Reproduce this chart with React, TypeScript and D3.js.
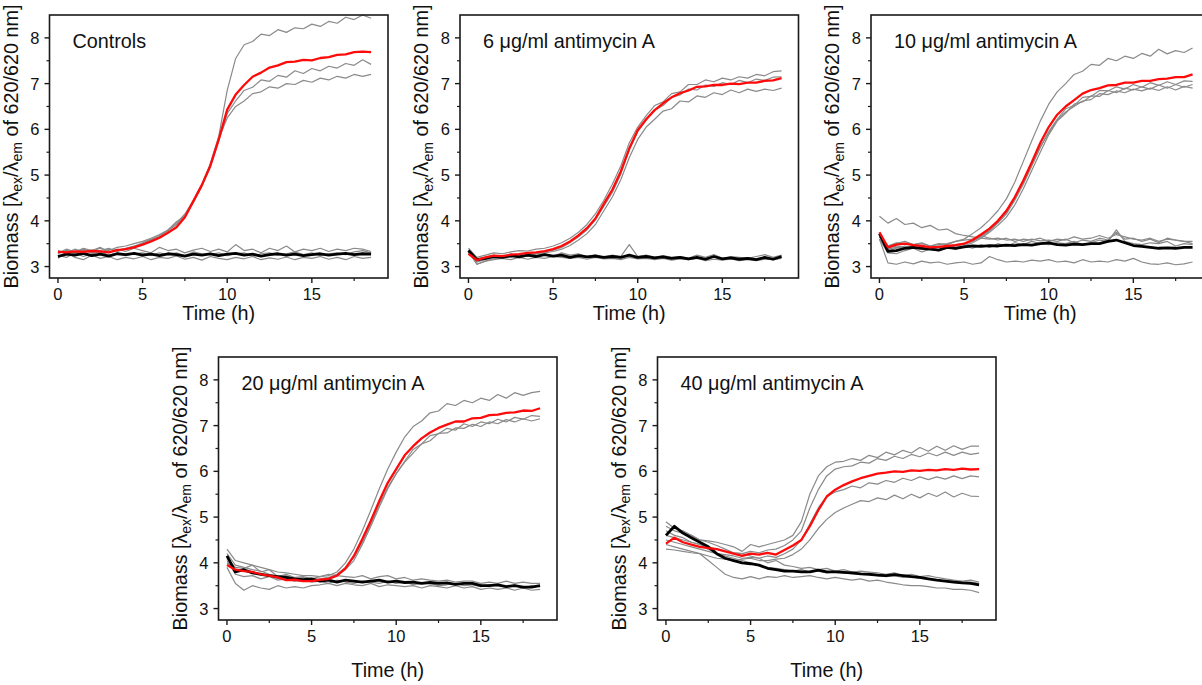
import React from 'react';
import * as d3 from 'd3';

// ---------- shared axes / categories ----------
const TIME = [0, 0.5, 1, 1.5, 2, 2.5, 3, 3.5, 4, 4.5, 5, 5.5, 6, 6.5, 7, 7.5, 8, 8.5, 9, 9.5,
  10, 10.5, 11, 11.5, 12, 12.5, 13, 13.5, 14, 14.5, 15, 15.5, 16, 16.5, 17, 17.5, 18, 18.5];
const X_TICKS = [0, 5, 10, 15];
const X_MINOR = [2.5, 7.5, 12.5, 17.5];
const Y_TICKS = [3, 4, 5, 6, 7, 8];
const Y_MINOR = [3.5, 4.5, 5.5, 6.5, 7.5];
const TITLES = ['Controls', '6 μg/ml antimycin A', '10 μg/ml antimycin A', '20 μg/ml antimycin A', '40 μg/ml antimycin A'];

// ---------- Panel 1: Controls ----------
const P1_RED = [3.32, 3.31, 3.33, 3.32, 3.34, 3.33, 3.31, 3.36, 3.38, 3.42, 3.48, 3.55, 3.63, 3.74, 3.86, 4.08, 4.43, 4.78, 5.2, 5.78,
  6.43, 6.76, 6.97, 7.15, 7.24, 7.35, 7.4, 7.47, 7.48, 7.52, 7.51, 7.56, 7.58, 7.63, 7.64, 7.69, 7.7, 7.69];
const P1_GROW = [
  [3.28, 3.36, 3.30, 3.38, 3.33, 3.40, 3.35, 3.42, 3.45, 3.50, 3.55, 3.62, 3.70, 3.80, 3.95, 4.15, 4.45, 4.80, 5.25, 5.85,
    6.85, 7.55, 7.85, 7.92, 8.08, 8.05, 8.18, 8.12, 8.22, 8.2, 8.3, 8.25, 8.36, 8.32, 8.45, 8.4, 8.5, 8.43],
  [3.35, 3.30, 3.38, 3.32, 3.36, 3.30, 3.38, 3.35, 3.40, 3.45, 3.50, 3.58, 3.68, 3.78, 3.92, 4.12, 4.40, 4.75, 5.18, 5.75,
    6.35, 6.62, 6.85, 6.92, 7.08, 7.05, 7.18, 7.14, 7.28, 7.22, 7.33, 7.28, 7.38, 7.34, 7.44, 7.4, 7.52, 7.42],
  [3.30, 3.34, 3.28, 3.36, 3.30, 3.35, 3.40, 3.33, 3.38, 3.44, 3.52, 3.60, 3.65, 3.80, 3.98, 4.10, 4.42, 4.76, 5.22, 5.80,
    6.25, 6.5, 6.62, 6.78, 6.82, 6.93, 6.9, 7.0, 6.98, 7.07, 7.03, 7.12, 7.08, 7.16, 7.12, 7.2, 7.16, 7.2],
];
const P1_BLACK = [3.22, 3.27, 3.25, 3.29, 3.24, 3.27, 3.23, 3.28, 3.26, 3.29, 3.25, 3.27, 3.24, 3.28, 3.26, 3.23, 3.27, 3.25, 3.28, 3.24,
  3.27, 3.29, 3.25, 3.27, 3.23, 3.26, 3.28, 3.25, 3.27, 3.24, 3.26, 3.28, 3.25, 3.27, 3.29, 3.26, 3.28, 3.27];
const P1_FLAT = [
  [3.18, 3.32, 3.2, 3.15, 3.25, 3.18, 3.22, 3.15, 3.2, 3.17, 3.22, 3.15, 3.2, 3.18, 3.23, 3.16, 3.2, 3.14, 3.22, 3.18,
    3.15, 3.2, 3.17, 3.22, 3.15, 3.19, 3.16, 3.21, 3.15, 3.2, 3.18, 3.22, 3.16, 3.2, 3.15, 3.22, 3.18, 3.2],
  [3.3, 3.38, 3.32, 3.4, 3.35, 3.42, 3.3, 3.38, 3.33, 3.4, 3.35, 3.3, 3.42, 3.35, 3.38, 3.3, 3.36, 3.4, 3.33, 3.38,
    3.32, 3.48, 3.35, 3.38, 3.3, 3.4, 3.35, 3.45, 3.32, 3.38, 3.35, 3.4, 3.33, 3.38, 3.35, 3.4, 3.38, 3.33],
  [3.25, 3.2, 3.3, 3.22, 3.28, 3.32, 3.25, 3.3, 3.24, 3.28, 3.3, 3.25, 3.3, 3.26, 3.3, 3.24, 3.32, 3.28, 3.26, 3.3,
    3.24, 3.28, 3.3, 3.22, 3.28, 3.3, 3.25, 3.28, 3.32, 3.26, 3.3, 3.24, 3.28, 3.3, 3.26, 3.32, 3.35, 3.3],
];

// ---------- Panel 2: 6 µg/ml ----------
const P2_RED = [3.28, 3.14, 3.2, 3.24, 3.23, 3.26, 3.27, 3.3, 3.31, 3.34, 3.38, 3.45, 3.55, 3.68, 3.84, 4.05, 4.37, 4.68, 5.08, 5.58,
  5.98, 6.22, 6.42, 6.57, 6.7, 6.79, 6.85, 6.93, 6.94, 6.97, 6.97, 7.0, 6.99, 7.02, 7.02, 7.06, 7.07, 7.12];
const P2_GROW = [
  [3.4, 3.2, 3.25, 3.3, 3.28, 3.32, 3.35, 3.34, 3.38, 3.4, 3.45, 3.52, 3.62, 3.75, 3.92, 4.15, 4.45, 4.8, 5.2, 5.7,
    6.05, 6.3, 6.52, 6.6, 6.78, 6.82, 6.98, 6.98, 7.08, 7.04, 7.12, 7.08, 7.15, 7.12, 7.2, 7.17, 7.26, 7.28],
  [3.3, 3.1, 3.15, 3.2, 3.22, 3.2, 3.25, 3.28, 3.3, 3.32, 3.36, 3.42, 3.52, 3.65, 3.8, 4.02, 4.32, 4.62, 5.02, 5.55,
    5.95, 6.2, 6.42, 6.52, 6.7, 6.75, 6.88, 6.86, 6.97, 6.94, 7.02, 6.98, 7.07, 7.02, 7.1, 7.07, 7.14, 7.15],
  [3.35, 3.05, 3.12, 3.18, 3.2, 3.22, 3.25, 3.22, 3.28, 3.3, 3.33, 3.38, 3.46, 3.58, 3.72, 3.92, 4.22, 4.52, 4.9, 5.38,
    5.78, 6.05, 6.22, 6.4, 6.45, 6.62, 6.6, 6.73, 6.7, 6.8, 6.76, 6.86, 6.8, 6.88, 6.83, 6.88, 6.85, 6.9],
];
const P2_BLACK = [3.35, 3.15, 3.18, 3.22, 3.2, 3.24, 3.21, 3.25, 3.22, 3.26, 3.23, 3.25, 3.2, 3.24, 3.21, 3.23, 3.2, 3.22, 3.2, 3.25,
  3.2, 3.22, 3.19, 3.21, 3.18, 3.2, 3.17, 3.2, 3.16, 3.22, 3.17, 3.19, 3.16, 3.18, 3.15, 3.2, 3.16, 3.22];
const P2_FLAT = [
  [3.3, 3.1, 3.2, 3.25, 3.18, 3.28, 3.22, 3.3, 3.25, 3.28, 3.22, 3.3, 3.25, 3.28, 3.22, 3.26, 3.2, 3.25, 3.22, 3.48,
    3.22, 3.25, 3.2, 3.24, 3.2, 3.22, 3.18, 3.25, 3.2, 3.26, 3.18, 3.22, 3.2, 3.18, 3.22, 3.26, 3.2, 3.25],
  [3.32, 3.05, 3.12, 3.15, 3.18, 3.15, 3.2, 3.16, 3.2, 3.18, 3.22, 3.2, 3.18, 3.2, 3.16, 3.2, 3.17, 3.18, 3.15, 3.2,
    3.17, 3.18, 3.15, 3.18, 3.14, 3.17, 3.15, 3.18, 3.13, 3.16, 3.14, 3.17, 3.13, 3.15, 3.13, 3.16, 3.15, 3.18],
];

// ---------- Panel 3: 10 µg/ml ----------
const P3_RED = [3.75, 3.42, 3.48, 3.5, 3.47, 3.45, 3.42, 3.43, 3.45, 3.47, 3.5, 3.58, 3.7, 3.83, 4.0, 4.22, 4.52, 4.88, 5.28, 5.7,
  6.05, 6.32, 6.5, 6.64, 6.78, 6.86, 6.9, 6.96, 6.97, 7.02, 7.02, 7.06, 7.06, 7.1, 7.11, 7.14, 7.14, 7.2];
const P3_GROW = [
  [3.7, 3.45, 3.52, 3.5, 3.48, 3.5, 3.45, 3.48, 3.5, 3.55, 3.6, 3.72, 3.85, 4.02, 4.22, 4.48, 4.85, 5.3, 5.75, 6.18,
    6.55, 6.82, 7.0, 7.2, 7.27, 7.42, 7.4, 7.55, 7.5, 7.6, 7.55, 7.66, 7.6, 7.75, 7.65, 7.72, 7.68, 7.78],
  [3.6, 3.4, 3.45, 3.42, 3.45, 3.4, 3.38, 3.42, 3.4, 3.45, 3.48, 3.55, 3.65, 3.78, 3.95, 4.15, 4.45, 4.8, 5.2, 5.6,
    5.95, 6.22, 6.45, 6.52, 6.7, 6.72, 6.85, 6.84, 6.93, 6.88, 6.98, 6.92, 7.02, 6.96, 7.04, 6.98, 7.06, 7.05],
  [3.65, 3.35, 3.4, 3.45, 3.4, 3.38, 3.4, 3.36, 3.4, 3.42, 3.45, 3.52, 3.62, 3.75, 3.9, 4.08, 4.35, 4.7, 5.1, 5.5,
    5.88, 6.18, 6.35, 6.55, 6.6, 6.73, 6.72, 6.85, 6.8, 6.9, 6.86, 6.93, 6.88, 6.97, 6.9, 6.98, 6.92, 6.98],
  [3.7, 3.38, 3.42, 3.4, 3.43, 3.46, 3.42, 3.45, 3.43, 3.48, 3.5, 3.56, 3.66, 3.8, 3.97, 4.18, 4.5, 4.85, 5.25, 5.62,
    5.92, 6.2, 6.38, 6.5, 6.62, 6.65, 6.78, 6.76, 6.84, 6.8, 6.88, 6.84, 6.9, 6.85, 6.93, 6.86, 6.94, 6.9],
];
const P3_BLACK = [3.72, 3.33, 3.35, 3.4, 3.42, 3.4, 3.38, 3.36, 3.42, 3.4, 3.43, 3.45, 3.44, 3.46, 3.45, 3.47, 3.46, 3.48, 3.47, 3.5,
  3.52, 3.48, 3.47, 3.49, 3.48, 3.5, 3.5, 3.55, 3.58, 3.52, 3.46, 3.44, 3.42, 3.4, 3.41, 3.4, 3.42, 3.42];
const P3_FLAT = [
  [4.1, 3.95, 4.05, 3.92, 3.95, 3.85, 3.9, 3.8, 3.82, 3.72, 3.68, 3.65, 3.62, 3.6, 3.62, 3.58, 3.6, 3.55, 3.6, 3.56,
    3.58, 3.55, 3.6, 3.52, 3.58, 3.55, 3.62, 3.58, 3.75, 3.6, 3.62, 3.55, 3.6, 3.52, 3.62, 3.58, 3.55, 3.55],
  [3.6, 3.08, 3.05, 3.1, 3.06, 3.12, 3.08, 3.1, 3.05, 3.08, 3.1, 3.05, 3.08, 3.22, 3.15, 3.1, 3.12, 3.1, 3.14, 3.12,
    3.15, 3.1, 3.12, 3.08, 3.15, 3.1, 3.12, 3.1, 3.15, 3.12, 3.18, 3.1, 3.06, 3.05, 3.08, 3.04, 3.06, 3.1],
  [3.65, 3.45, 3.5, 3.55, 3.48, 3.52, 3.45, 3.5, 3.48, 3.55, 3.58, 3.6, 3.68, 3.62, 3.58, 3.62, 3.55, 3.6, 3.58, 3.62,
    3.55, 3.6, 3.58, 3.65, 3.6, 3.62, 3.68, 3.62, 3.7, 3.65, 3.6, 3.58, 3.62, 3.55, 3.6, 3.58, 3.55, 3.5],
  [3.6, 3.3, 3.28, 3.35, 3.4, 3.32, 3.38, 3.35, 3.42, 3.38, 3.45, 3.4, 3.48, 3.42, 3.5, 3.45, 3.52, 3.48, 3.55, 3.5,
    3.48, 3.52, 3.5, 3.55, 3.48, 3.52, 3.58, 3.55, 3.8, 3.55, 3.5, 3.48, 3.52, 3.5, 3.55, 3.45, 3.5, 3.48],
];

// ---------- Panel 4: 20 µg/ml ----------
const P4_RED = [3.95, 3.85, 3.82, 3.8, 3.75, 3.72, 3.68, 3.62, 3.63, 3.6, 3.6, 3.63, 3.65, 3.72, 3.88, 4.15, 4.52, 4.92, 5.35, 5.75,
  6.05, 6.35, 6.55, 6.72, 6.85, 6.95, 7.02, 7.09, 7.09, 7.16, 7.17, 7.23, 7.24, 7.28, 7.29, 7.33, 7.32, 7.38];
const P4_GROW = [
  [4.1, 3.9, 3.88, 3.95, 3.8, 3.85, 3.7, 3.75, 3.68, 3.7, 3.65, 3.7, 3.72, 3.8, 4.0, 4.3, 4.7, 5.15, 5.62, 6.05,
    6.42, 6.75, 6.98, 7.1, 7.28, 7.32, 7.48, 7.44, 7.55, 7.5, 7.6, 7.55, 7.68, 7.6, 7.72, 7.66, 7.72, 7.75],
  [4.2, 3.95, 3.9, 3.85, 3.82, 3.75, 3.7, 3.72, 3.65, 3.68, 3.62, 3.65, 3.68, 3.75, 3.9, 4.12, 4.45, 4.85, 5.28, 5.65,
    5.95, 6.22, 6.48, 6.6, 6.78, 6.82, 6.94, 6.9, 7.04, 6.98, 7.08, 7.04, 7.14, 7.08, 7.18, 7.14, 7.22, 7.2],
  [4.0, 3.85, 3.82, 3.78, 3.75, 3.72, 3.65, 3.68, 3.62, 3.6, 3.6, 3.62, 3.66, 3.72, 3.85, 4.05, 4.4, 4.8, 5.22, 5.62,
    5.95, 6.2, 6.4, 6.6, 6.67, 6.83, 6.84, 6.95, 6.94, 7.03, 6.98, 7.08, 7.04, 7.13, 7.08, 7.15, 7.1, 7.15],
];
const P4_BLACK = [4.15, 3.8, 3.85, 3.78, 3.75, 3.72, 3.7, 3.68, 3.65, 3.63, 3.65, 3.6, 3.62, 3.58, 3.62, 3.6, 3.58, 3.6, 3.62, 3.58,
  3.6, 3.57, 3.58, 3.55, 3.57, 3.55, 3.56, 3.53, 3.55, 3.55, 3.5, 3.5, 3.52, 3.48, 3.5, 3.47, 3.47, 3.5];
const P4_FLAT = [
  [3.9, 3.55, 3.4, 3.5, 3.45, 3.42, 3.5, 3.45, 3.48, 3.45, 3.5, 3.52, 3.55, 3.5, 3.55, 3.52, 3.5, 3.55, 3.48, 3.52,
    3.5, 3.48, 3.5, 3.45, 3.5, 3.48, 3.45, 3.5, 3.45, 3.48, 3.42, 3.45, 3.42, 3.45, 3.4, 3.45, 3.4, 3.42],
  [4.3, 4.05, 4.0, 3.95, 3.9, 3.85, 3.8, 3.78, 3.75, 3.72, 3.72, 3.7, 3.75, 3.72, 3.7, 3.68, 3.72, 3.65, 3.7, 3.72,
    3.65, 3.68, 3.62, 3.65, 3.62, 3.6, 3.62, 3.58, 3.6, 3.6, 3.55, 3.58, 3.55, 3.6, 3.55, 3.58, 3.55, 3.55],
  [4.05, 3.75, 3.7, 3.72, 3.65, 3.7, 3.62, 3.65, 3.6, 3.62, 3.58, 3.6, 3.55, 3.62, 3.58, 3.55, 3.6, 3.58, 3.55, 3.6,
    3.55, 3.58, 3.52, 3.55, 3.55, 3.5, 3.52, 3.55, 3.5, 3.52, 3.48, 3.52, 3.5, 3.48, 3.52, 3.45, 3.5, 3.48],
];

// ---------- Panel 5: 40 µg/ml ----------
const P5_RED = [4.42, 4.55, 4.45, 4.4, 4.35, 4.32, 4.3, 4.25, 4.2, 4.15, 4.2, 4.18, 4.22, 4.18, 4.28, 4.38, 4.5, 4.8, 5.15, 5.45,
  5.6, 5.7, 5.78, 5.85, 5.9, 5.95, 5.97, 6.0, 5.99, 6.02, 6.01, 6.03, 6.02, 6.05, 6.03, 6.06, 6.04, 6.05];
const P5_GROW = [
  [4.8, 4.7, 4.65, 4.6, 4.5, 4.48, 4.45, 4.4, 4.35, 4.25, 4.4, 4.35, 4.4, 4.45, 4.5, 4.6, 4.9, 5.5, 5.9, 6.1,
    6.2, 6.22, 6.28, 6.24, 6.35, 6.3, 6.42, 6.36, 6.46, 6.4, 6.52, 6.44, 6.55, 6.46, 6.56, 6.48, 6.55, 6.55],
  [4.6, 4.55, 4.5, 4.45, 4.4, 4.35, 4.3, 4.25, 4.22, 4.2, 4.25, 4.22, 4.28, 4.3, 4.38, 4.5, 4.7, 5.2, 5.6, 5.9,
    6.05, 6.1, 6.12, 6.2, 6.18, 6.28, 6.24, 6.33, 6.28, 6.37, 6.32, 6.4, 6.34, 6.42, 6.35, 6.42, 6.37, 6.4],
  [4.5, 4.45, 4.4, 4.35, 4.3, 4.25, 4.2, 4.18, 4.15, 4.1, 4.12, 4.1, 4.15, 4.12, 4.2, 4.3, 4.5, 4.85, 5.2, 5.45,
    5.55, 5.6, 5.68, 5.64, 5.75, 5.72, 5.8, 5.76, 5.85, 5.8, 5.88, 5.82, 5.88, 5.83, 5.9, 5.84, 5.9, 5.88],
  [4.3, 4.28, 4.25, 4.22, 4.2, 4.15, 4.1, 4.08, 4.05, 4.08, 4.1, 4.05, 4.05, 4.08, 4.1, 4.18, 4.3, 4.5, 4.75, 4.95,
    5.1, 5.2, 5.28, 5.36, 5.34, 5.42, 5.38, 5.48, 5.4, 5.5, 5.42, 5.52, 5.45, 5.55, 5.44, 5.52, 5.46, 5.45],
];
const P5_BLACK = [4.6, 4.8, 4.65, 4.55, 4.45, 4.35, 4.2, 4.1, 4.05, 4.0, 3.98, 3.95, 3.88, 3.85, 3.82, 3.82, 3.8, 3.8, 3.84, 3.8,
  3.8, 3.79, 3.78, 3.76, 3.75, 3.73, 3.72, 3.74, 3.72, 3.7, 3.68, 3.65, 3.62, 3.6, 3.58, 3.56, 3.55, 3.52];
const P5_FLAT = [
  [4.9, 4.75, 4.7, 4.6, 4.5, 4.45, 4.38, 4.3, 4.22, 4.2, 4.15, 4.1, 4.0, 4.05, 3.95, 3.92, 3.88, 3.9, 3.85, 3.88,
    3.82, 3.85, 3.8, 3.82, 3.8, 3.78, 3.75, 3.78, 3.72, 3.75, 3.7, 3.72, 3.68, 3.65, 3.62, 3.6, 3.62, 3.58],
  [4.4, 4.35, 4.3, 4.25, 4.2, 4.05, 3.9, 3.75, 3.68, 3.65, 3.7, 3.65, 3.7, 3.68, 3.72, 3.68, 3.7, 3.72, 3.68, 3.65,
    3.68, 3.65, 3.62, 3.65, 3.6, 3.62, 3.58, 3.55, 3.52, 3.5, 3.5, 3.48, 3.45, 3.45, 3.42, 3.42, 3.4, 3.35],
  [4.7, 4.6, 4.55, 4.45, 4.4, 4.3, 4.2, 4.15, 4.1, 4.05, 4.0, 3.95, 3.9, 3.88, 3.85, 3.82, 3.85, 3.8, 3.82, 3.78,
    3.8, 3.78, 3.76, 3.75, 3.76, 3.72, 3.7, 3.72, 3.68, 3.7, 3.66, 3.65, 3.62, 3.6, 3.6, 3.58, 3.58, 3.55],
];

const PANEL_DATA = [
  { red: P1_RED, grow: P1_GROW, black: P1_BLACK, flat: P1_FLAT },
  { red: P2_RED, grow: P2_GROW, black: P2_BLACK, flat: P2_FLAT },
  { red: P3_RED, grow: P3_GROW, black: P3_BLACK, flat: P3_FLAT },
  { red: P4_RED, grow: P4_GROW, black: P4_BLACK, flat: P4_FLAT },
  { red: P5_RED, grow: P5_GROW, black: P5_BLACK, flat: P5_FLAT },
];

// ---------- layout (not data) ----------
const W = 1202;
const H = 685;
const PW = 338.5;
const PH = 263;
const LAYOUT = [
  { left: 49.5, top: 15, xTitleOff: 41.5 },
  { left: 460, top: 15, xTitleOff: 41.5 },
  { left: 871, top: 15, xTitleOff: 41.5 },
  { left: 218.5, top: 357, xTitleOff: 57 },
  { left: 657.5, top: 357, xTitleOff: 57 },
];
const FONT = "'Liberation Sans', Arial, Helvetica, sans-serif";
const GRAY = '#8a8a8a';
const RED = '#ff0a0a';
const TITLE_SIZE = 19.8;
const TICK_SIZE = 16.5;

function Panel({ idx }: { idx: number }) {
  const L = LAYOUT[idx];
  const D = PANEL_DATA[idx];
  const x = d3.scaleLinear().domain([-0.5, 19.5]).range([0, PW]);
  const y = d3.scaleLinear().domain([2.75, 8.5]).range([PH, 0]);
  const line = d3.line<number>().x((_, i) => x(TIME[i])).y((v) => y(v));
  return (
    <g transform={`translate(${L.left},${L.top})`}>
      {D.flat.map((s, i) => (
        <path key={'f' + i} d={line(s) || ''} fill="none" stroke={GRAY} strokeWidth={1.2} strokeLinejoin="round" />
      ))}
      {D.grow.map((s, i) => (
        <path key={'g' + i} d={line(s) || ''} fill="none" stroke={GRAY} strokeWidth={1.2} strokeLinejoin="round" />
      ))}
      <path d={line(D.black) || ''} fill="none" stroke="#000" strokeWidth={2.8} strokeLinejoin="round" />
      <path d={line(D.red) || ''} fill="none" stroke={RED} strokeWidth={2.3} strokeLinejoin="round" />
      <rect x={0} y={0} width={PW} height={PH} fill="none" stroke="#1a1a1a" strokeWidth={1.6} />
      {X_TICKS.map((t) => (
        <g key={'xt' + t}>
          <line x1={x(t)} x2={x(t)} y1={PH} y2={PH + 5} stroke="#1a1a1a" strokeWidth={1.4} />
          <text x={x(t)} y={PH + 22} textAnchor="middle" fontSize={TICK_SIZE} fontFamily={FONT} fill="#111">{t}</text>
        </g>
      ))}
      {X_MINOR.map((t) => (
        <line key={'xm' + t} x1={x(t)} x2={x(t)} y1={PH} y2={PH + 3} stroke="#1a1a1a" strokeWidth={1.2} />
      ))}
      {Y_TICKS.map((v) => (
        <g key={'yt' + v}>
          <line x1={-5} x2={0} y1={y(v)} y2={y(v)} stroke="#1a1a1a" strokeWidth={1.4} />
          <text x={-10} y={y(v) + 6} textAnchor="end" fontSize={TICK_SIZE} fontFamily={FONT} fill="#111">{v}</text>
        </g>
      ))}
      {Y_MINOR.map((v) => (
        <line key={'ym' + v} x1={-3} x2={0} y1={y(v)} y2={y(v)} stroke="#1a1a1a" strokeWidth={1.2} />
      ))}
      <text x={23} y={33} fontSize={TITLE_SIZE} fontFamily={FONT} fill="#111">{TITLES[idx]}</text>
      <text x={PW / 2} y={PH + L.xTitleOff} textAnchor="middle" fontSize={TITLE_SIZE} fontFamily={FONT} fill="#111">Time (h)</text>
      <text transform={`translate(${-32},${PH / 2}) rotate(-90)`} textAnchor="middle" fontSize={TITLE_SIZE} fontFamily={FONT} fill="#111">
        Biomass [λ<tspan fontSize={14} dy={4.5}>ex</tspan><tspan dy={-4.5}>/λ</tspan><tspan fontSize={14} dy={4.5}>em</tspan><tspan dy={-4.5}> of 620/620 nm]</tspan>
      </text>
    </g>
  );
}

export default function App() {
  return (
    <svg width={W} height={H} style={{ position: 'absolute', left: 0, top: 0, background: '#fff' }}>
      <rect x={0} y={0} width={W} height={H} fill="#fff" />
      {LAYOUT.map((_, i) => (
        <Panel key={i} idx={i} />
      ))}
    </svg>
  );
}
